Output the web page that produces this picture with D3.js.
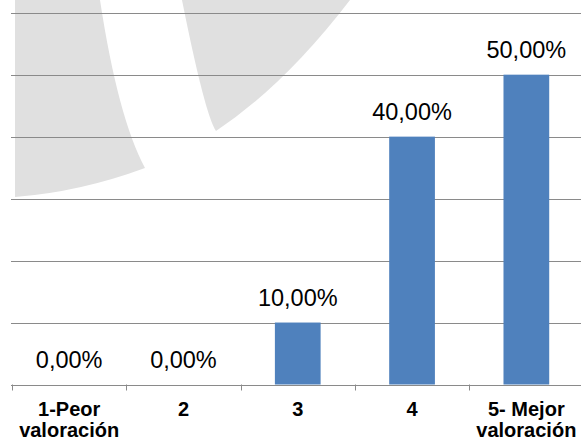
<!DOCTYPE html>
<html>
<head>
<meta charset="utf-8">
<script src="https://cdn.jsdelivr.net/npm/d3@7"></script>
<style>
  html, body { margin: 0; padding: 0; background: #fff; }
  svg { display: block; }
</style>
</head>
<body>
<svg id="chart" width="581" height="441"></svg>
<script>
const categories = ["1-Peor valoración", "2", "3", "4", "5- Mejor valoración"];
const categoryLines = [["1-Peor", "valoración"], ["2"], ["3"], ["4"], ["5- Mejor", "valoración"]];
const values = [0, 0, 10, 40, 50];
const yTicks = [0, 10, 20, 30, 40, 50, 60];

(function () {
const svg = d3.select("#chart");
const W = 581, H = 441;
const mLeft = 12, mRight = 583.5, mTop = 12.7, mBottom = 384.5;

const x = d3.scaleBand().domain(categories).range([mLeft, mRight]).paddingInner(0.6).paddingOuter(0.3);
const y = d3.scaleLinear().domain([0, 60]).range([mBottom, mTop]);

svg.append("rect").attr("width", W).attr("height", H).attr("fill", "#fff");

// watermark
const wm = svg.append("g").attr("fill", "#e0e0e0");
wm.append("path").attr("d", "M15,0 L100,0 Q118,118 145,168 Q80,192 15,197 Z");
wm.append("path").attr("d", "M182,0 L350,0 Q284,86 216,131 Q205,115 182,0 Z");

// gridlines
svg.append("g").selectAll("line").data(yTicks.filter(d => d > 0)).join("line")
  .attr("x1", 11).attr("x2", W)
  .attr("y1", d => Math.round(y(d)) + 0.5).attr("y2", d => Math.round(y(d)) + 0.5)
  .attr("stroke", "#8a8a8a").attr("stroke-width", 1);

// bars
svg.append("g").selectAll("rect").data(values).join("rect")
  .attr("x", (d, i) => x(categories[i]))
  .attr("width", x.bandwidth())
  .attr("y", d => y(d))
  .attr("height", d => y(0) - y(d))
  .attr("fill", "#4F81BD");

// baseline axis
const step = x.step();
const tickXs = d3.range(categories.length + 1).map(i => mLeft + i * step);
svg.append("line").attr("x1", 11).attr("x2", W)
  .attr("y1", Math.round(y(0)) + 0.5).attr("y2", Math.round(y(0)) + 0.5)
  .attr("stroke", "#8a8a8a");
svg.append("g").selectAll("line").data(tickXs).join("line")
  .attr("x1", d => Math.round(d) + 0.5).attr("x2", d => Math.round(d) + 0.5)
  .attr("y1", y(0)).attr("y2", y(0) + 6)
  .attr("stroke", "#8a8a8a");

// value labels
const fmt = v => v.toFixed(2).replace(".", ",") + "%";
svg.append("g").selectAll("text").data(values).join("text")
  .attr("x", (d, i) => x(categories[i]) + x.bandwidth() / 2)
  .attr("y", d => y(d) - 16.5)
  .attr("text-anchor", "middle")
  .attr("font-family", "'Liberation Sans', Arial, sans-serif")
  .attr("font-size", "23.5px")
  .attr("fill", "#000")
  .text(d => fmt(d));

// category labels
const cat = svg.append("g").selectAll("text").data(categories).join("text")
  .attr("text-anchor", "middle")
  .attr("font-family", "'Liberation Sans', Arial, sans-serif")
  .attr("font-size", "20px")
  .attr("font-weight", "bold")
  .attr("fill", "#000");
cat.each(function(d, i) {
  const t = d3.select(this);
  const cx = x(d) + x.bandwidth() / 2;
  categoryLines[i].forEach((ln, j) => {
    t.append("tspan").attr("x", cx).attr("y", 416 + j * 21).text(ln);
  });
});
})();
</script>
</body>
</html>
